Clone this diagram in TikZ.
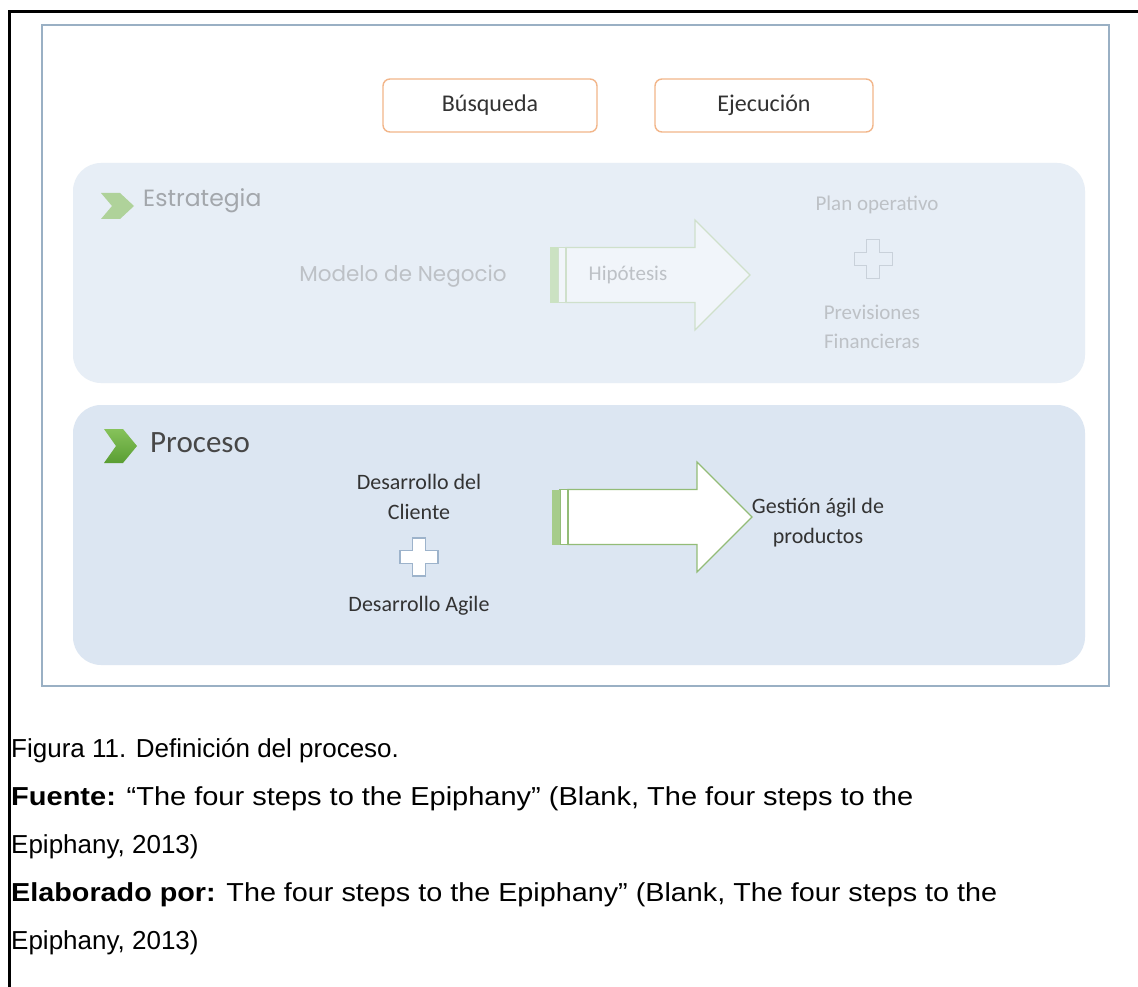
\documentclass[tikz,border=0pt]{standalone}
\usepackage{fontspec}
\usepackage{graphicx}
\setmainfont{Liberation Sans}
\newfontfamily\calibrifont{Carlito}
\newfontfamily\gothicfont{Poppins}
\usetikzlibrary{calc}

\definecolor{frameblue}{HTML}{9AB0C4}
\definecolor{panelfaint}{HTML}{E7EEF6}
\definecolor{panelblue}{HTML}{DCE6F2}
\definecolor{boxorange}{HTML}{F2B68A}
\definecolor{leafgreen}{HTML}{5A9E33}
\definecolor{leaflight}{HTML}{86C25A}
\definecolor{leaffaint}{HTML}{AFD29A}
\definecolor{arrowgreen}{HTML}{93BC77}
\definecolor{barsgreen}{HTML}{A6CC8A}
\definecolor{arrowfaint}{HTML}{CFE0CB}
\definecolor{barsfaint}{HTML}{CBE2C2}
\definecolor{textdark}{HTML}{333333}
\definecolor{textfaint}{HTML}{BDC1C6}
\definecolor{titlefaint}{HTML}{A3A7AC}
\definecolor{plusblue}{HTML}{9DB3CB}
\definecolor{plusfaint}{HTML}{C9D1DA}

\tikzset{
  panel/.style={rounded corners=28pt, inner sep=0pt, draw=none},
  stagebox/.style={draw=boxorange, line width=1.4pt, rounded corners=7pt, fill=white,
    minimum height=53pt, inner sep=0pt, text=textdark,
    font=\calibrifont\fontsize{24}{28}\selectfont},
  bodytext/.style={inner sep=0pt, align=center, text=textdark,
    font=\calibrifont\fontsize{22}{30}\selectfont},
  fainttext/.style={inner sep=0pt, align=center, text=textfaint,
    font=\calibrifont\fontsize{21}{29}\selectfont},
  caption/.style={inner sep=0pt, anchor=base west, text=black,
    font=\fontsize{26}{30}\selectfont},
  pics/flowarrow/.style n args={3}{code={
    \filldraw[draw=#1, fill=#2, line width=1.2pt, line join=miter]
      (16,-27.5) -- (145,-27.5) -- (145,-55) -- (200,0) -- (145,55)
      -- (145,27.5) -- (16,27.5) -- cycle;
    \filldraw[draw=#1, fill=#2, line width=1.2pt] (8,-27.5) rectangle (16,27.5);
    \fill[#3] (0,-27.5) rectangle (8,27.5);
  }},
  pics/plussign/.style n args={3}{code={
    \filldraw[draw=#1, fill=#2, line width=#3]
      (-6.5,-19) -- (6.5,-19) -- (6.5,-6.5) -- (19,-6.5) -- (19,6.5)
      -- (6.5,6.5) -- (6.5,19) -- (-6.5,19) -- (-6.5,6.5) -- (-19,6.5)
      -- (-19,-6.5) -- (-6.5,-6.5) -- cycle;
  }},
}

\begin{document}
\begin{tikzpicture}[x=1pt, y=-1pt]
  \useasboundingbox (0,0) rectangle (1138,987);
  \fill[white] (0,0) rectangle (1138,987);

  % outer page frame
  \draw[line width=3pt] (9,987) -- (9,12) -- (1138,12);

  % figure frame
  \draw[frameblue, line width=1.8pt] (42,25) rectangle (1109,686);

  % stage headers
  \node[stagebox, minimum width=214pt] (search) at (490,105.5) {Búsqueda};
  \node[stagebox, minimum width=218pt] (execution) at (764,105.5) {Ejecución};

  % strategy band (faded)
  \node[panel, fill=panelfaint, minimum width=1012pt, minimum height=220pt]
    (strategy) at (579,273) {};
  \fill[leaffaint] (101,193) -- (120,193) -- (134,206) -- (120,219)
    -- (101,219) -- (112,206) -- cycle;
  \node[inner sep=0pt, anchor=west, text=titlefaint,
    font=\gothicfont\fontsize{23.5}{28}\selectfont] (strategylabel) at (143,201) {Estrategia};
  \node[inner sep=0pt, text=textfaint, font=\gothicfont\fontsize{21.5}{26}\selectfont]
    (model) at (403,276) {Modelo de Negocio};
  \pic at (550,275) {flowarrow={arrowfaint}{panelfaint!60!white}{barsfaint}};
  \node[fainttext] (hypothesis) at (628,275) {Hipótesis};
  \node[fainttext] (plan) at (877,205) {Plan operativo};
  \pic at (873,259) {plussign={plusfaint}{panelfaint}{1pt}};
  \node[fainttext] (forecast) at (872,327) {Previsiones\\Financieras};

  % process band
  \node[panel, fill=panelblue, minimum width=1012pt, minimum height=260pt]
    (process) at (579,535) {};
  \shade[top color=leaflight, bottom color=leafgreen]
    (104,429) -- (123,429) -- (137,446) -- (123,463) -- (104,463)
    -- (116,446) -- cycle;
  \node[inner sep=0pt, anchor=west, text=textdark!90!white,
    font=\calibrifont\fontsize{31}{36}\selectfont] (processlabel) at (150,443) {Proceso};
  \node[bodytext] (customer) at (419,497) {Desarrollo del\\Cliente};
  \pic at (419,557) {plussign={plusblue}{white}{1.2pt}};
  \node[bodytext] (agile) at (419,606) {Desarrollo Agile};
  \pic at (552,517) {flowarrow={arrowgreen}{white}{barsgreen}};
  \node[bodytext] (product) at (818,523) {Gestión ágil de\\productos};

  % caption
  \node[caption] (figtitle) at (11,757) {Figura 11. Definición del proceso.};
  \node[caption] (source) at (11,805)
    {\resizebox{902pt}{\height}{\textbf{Fuente:} “The four steps to the Epiphany” (Blank, The four steps to the}};
  \node[caption] (sourceend) at (11,853) {Epiphany, 2013)};
  \node[caption] (author) at (11,901)
    {\resizebox{986pt}{\height}{\textbf{Elaborado por:} The four steps to the Epiphany” (Blank, The four steps to the}};
  \node[caption] (authorend) at (11,949) {Epiphany, 2013)};
\end{tikzpicture}
\end{document}
